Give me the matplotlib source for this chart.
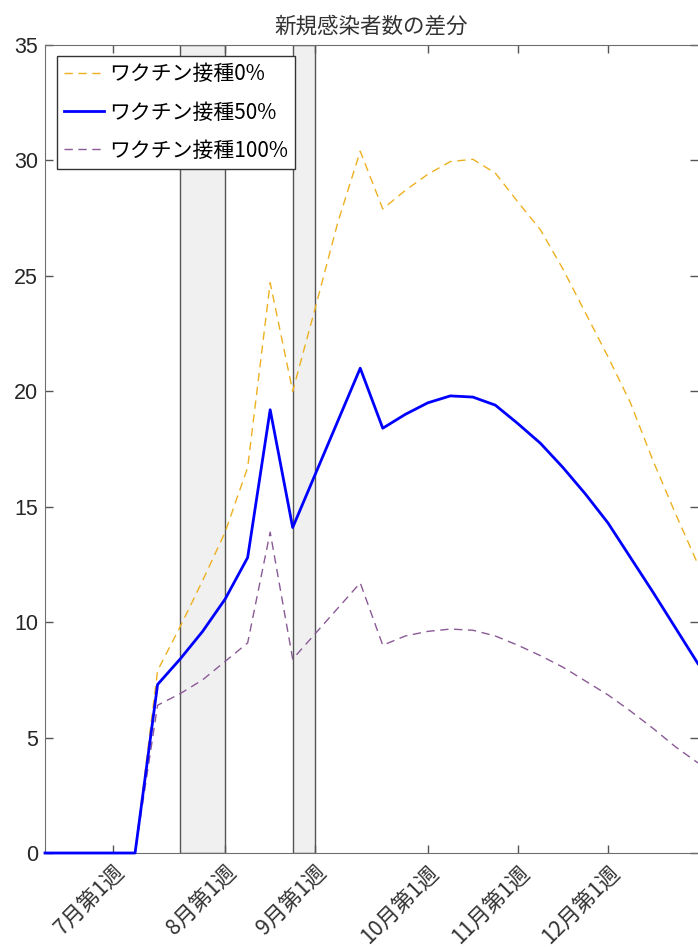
import matplotlib.pyplot as plt

# 週番号（0 = 6月中旬あたり）
weeks = list(range(30))

vac0 = [0, 0, 0, 0, 0, 7.9, 9.8, 11.8, 13.9, 16.7,
        24.7, 20.0, 23.6, 27.3, 30.4, 27.9, 28.7, 29.4, 29.95, 30.05,
        29.45, 28.2, 27.0, 25.3, 23.4, 21.5, 19.5, 17.0, 14.7, 12.5]
vac50 = [0, 0, 0, 0, 0, 7.3, 8.4, 9.6, 11.0, 12.8,
         19.2, 14.1, 16.4, 18.7, 21.0, 18.4, 19.0, 19.5, 19.8, 19.75,
         19.4, 18.6, 17.75, 16.7, 15.55, 14.3, 12.8, 11.3, 9.75, 8.2]
vac100 = [0, 0, 0, 0, 0, 6.4, 6.9, 7.5, 8.3, 9.1,
          13.9, 8.4, 9.5, 10.6, 11.7, 9.0, 9.4, 9.6, 9.7, 9.65,
          9.4, 9.0, 8.55, 8.05, 7.45, 6.85, 6.15, 5.4, 4.6, 3.9]

labels = ['ワクチン接種0%', 'ワクチン接種50%', 'ワクチン接種100%']

tick_pos = [3, 8, 12, 17, 21, 25]
tick_labels = ['7月第1週', '8月第1週', '9月第1週', '10月第1週', '11月第1週', '12月第1週']

# 網掛け期間
shade_start = [6, 11]
shade_end = [8, 12]
y_top = 35

plt.rcParams['font.family'] = ['Noto Sans CJK JP', 'DejaVu Sans']

fig = plt.figure(figsize=(6.98, 9.47), dpi=100)
ax = fig.add_axes([45 / 698, 94 / 947, 653 / 698, 808 / 947])

ax.bar(shade_start, y_top, width=[e - s for s, e in zip(shade_start, shade_end)],
       align='edge', color='#f0f0f0', edgecolor='#555555', linewidth=1, zorder=1)

ax.plot(weeks, vac0, color='#EDB120', lw=1, dashes=(6, 4), label=labels[0], zorder=3, clip_on=False)
ax.plot(weeks, vac50, color='#0000ff', lw=2, label=labels[1], zorder=5, clip_on=False)
ax.plot(weeks, vac100, color='#8a5a96', lw=1, dashes=(6, 4), label=labels[2], zorder=4, clip_on=False)

ax.set_xlim(0, 29)
ax.set_ylim(0, y_top)
ax.set_xticks(tick_pos)
ax.set_xticklabels(tick_labels, rotation=45, ha='right', rotation_mode='anchor', fontsize=15.5, color='#333333')
ax.set_yticks(range(0, 36, 5))
for t in ax.get_yticklabels():
    t.set_fontfamily('Liberation Sans')
    t.set_fontsize(15.5)
    t.set_color('#262626')

ax.tick_params(direction='in', top=True, right=True, length=6, width=1, color='#555555')
ax.tick_params(axis='x', pad=6)
ax.tick_params(axis='y', pad=5)
for side in ['left', 'bottom', 'top']:
    ax.spines[side].set_color('#6e6e6e')
ax.spines['right'].set_visible(False)

ax.set_title('新規感染者数の差分', fontsize=15.5, color='#333333', pad=9)

leg = ax.legend(loc='upper left', bbox_to_anchor=(12 / 653, 797 / 808), borderaxespad=0,
                fontsize=15, handlelength=1.9, handletextpad=0.25, borderpad=0.35,
                labelspacing=0.78, fancybox=False, framealpha=1, edgecolor='#333333')
leg.get_frame().set_linewidth(1)
leg.set_zorder(10)

fig.savefig('out.png', dpi=100)
